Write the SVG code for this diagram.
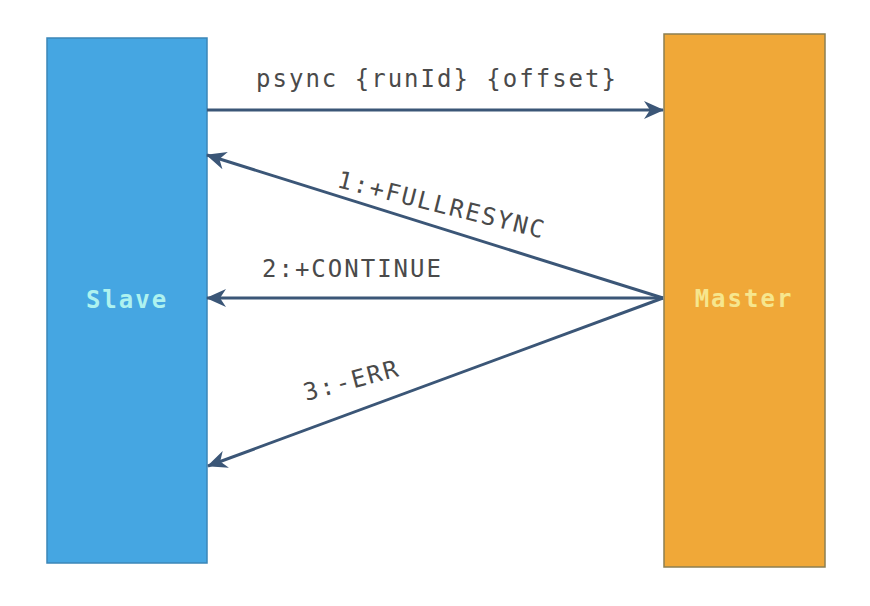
<svg xmlns="http://www.w3.org/2000/svg" width="870" height="606" viewBox="0 0 870 606">
<style>
.lbl{font-family:"DejaVu Sans Mono","Liberation Mono",monospace;font-size:24px;letter-spacing:2px;fill:#4a4a4a}
.node-t{font-family:"DejaVu Sans Mono","Liberation Mono",monospace;font-size:24px;letter-spacing:2px;font-weight:bold}
.conn{stroke:#3b5677;stroke-width:3;fill:none;marker-end:url(#ah)}
</style>
<defs>
<marker id="ah" markerUnits="userSpaceOnUse" viewBox="0 0 20 18" refX="19" refY="9" markerWidth="20" markerHeight="18" orient="auto">
<path d="M0,0 L20,9 L0,18 L6,9 Z" fill="#3b5677"/>
</marker>
</defs>
<rect width="870" height="606" fill="#ffffff"/>
<g id="slave">
<rect x="47" y="38" width="160" height="525" fill="#45a6e2" stroke="#3b86b8" stroke-width="1.5"/>
<text class="node-t" x="127" y="308" text-anchor="middle" fill="#aef2ef">Slave</text>
</g>
<g id="master">
<rect x="664" y="34" width="161" height="533" fill="#f0a838" stroke="#8c7f52" stroke-width="1.5"/>
<text class="node-t" x="744" y="307" text-anchor="middle" fill="#f6e68e">Master</text>
</g>
<g id="connectors">
<line class="conn" x1="207" y1="110" x2="663" y2="110"/>
<line class="conn" x1="663" y1="298" x2="207" y2="155"/>
<line class="conn" x1="663" y1="298" x2="207" y2="298"/>
<line class="conn" x1="663" y1="298" x2="208" y2="466"/>
<text class="lbl" x="437" y="87" text-anchor="middle">psync {runId} {offset}</text>
<text class="lbl" x="336" y="187" transform="rotate(14 336 187)">1:+FULLRESYNC</text>
<text class="lbl" x="262" y="277">2:+CONTINUE</text>
<text class="lbl" x="306" y="401" transform="rotate(-15 306 401)">3:-ERR</text>
</g>
</svg>
